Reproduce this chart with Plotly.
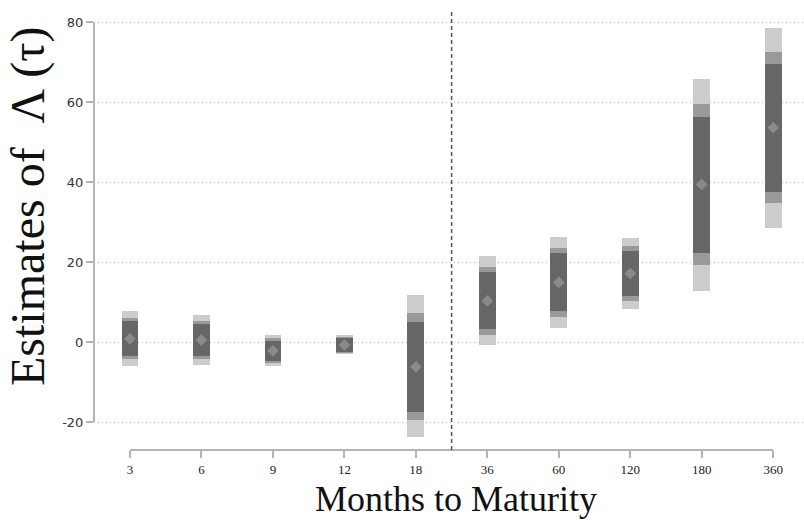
import plotly.graph_objects as go

# Categories (months to maturity)
maturities = ["3", "6", "9", "12", "18", "36", "60", "120", "180", "360"]
positions = list(range(1, len(maturities) + 1))

# Point estimates
estimate = [0.8, 0.5, -2.2, -0.75, -6.2, 10.3, 14.9, 17.1, 39.4, 53.6]
# Inner band (dark)
inner_lo = [-3.5, -3.5, -4.75, -2.4, -17.4, 3.2, 7.7, 11.4, 22.3, 37.6]
inner_hi = [5.25, 4.5, 0.3, 0.9, 5.1, 17.5, 22.2, 22.75, 56.3, 69.5]
# Middle band (medium)
mid_lo = [-4.3, -4.25, -5.2, -2.75, -19.5, 1.75, 6.2, 10.3, 19.2, 34.7]
mid_hi = [6.1, 5.25, 1.1, 1.25, 7.3, 18.8, 23.5, 23.9, 59.5, 72.6]
# Outer band (light)
outer_lo = [-6.0, -5.75, -6.0, -3.1, -23.8, -0.8, 3.5, 8.25, 12.75, 28.6]
outer_hi = [7.75, 6.75, 1.7, 1.7, 11.75, 21.5, 26.3, 25.9, 65.8, 78.4]

y_ticks = [-20, 0, 20, 40, 60, 80]

BAR_W = 0.235
fig = go.Figure()

for lo, hi, col in [(outer_lo, outer_hi, "#cccccc"),
                    (mid_lo, mid_hi, "#999999"),
                    (inner_lo, inner_hi, "#666666")]:
    fig.add_trace(go.Bar(
        x=positions,
        y=[h - l for l, h in zip(lo, hi)],
        base=lo,
        width=BAR_W,
        marker=dict(color=col, line=dict(width=0)),
        showlegend=False,
        hoverinfo="skip",
    ))

fig.add_trace(go.Scatter(
    x=positions, y=estimate, mode="markers",
    marker=dict(symbol="diamond", size=9, color="#8a8a8a", line=dict(width=0)),
    showlegend=False,
))

axis_col = "#b4b4b4"
# y axis line spanning tick range
fig.add_shape(type="line", xref="paper", yref="y", x0=0, x1=0,
              y0=min(y_ticks), y1=max(y_ticks),
              line=dict(color=axis_col, width=2))
# x axis line spanning category range
fig.add_shape(type="line", xref="x", yref="paper", x0=positions[0], x1=positions[-1],
              y0=0, y1=0, line=dict(color=axis_col, width=2))
# dashed separator between 18 and 36
sep = (positions[4] + positions[5]) / 2
fig.add_shape(type="line", xref="x", yref="paper", x0=sep, x1=sep, y0=0, y1=1,
              line=dict(color="#555555", width=1.5, dash="4px,3px"))

fig.update_layout(
    width=804, height=520,
    margin=dict(l=94, r=0, t=12, b=70),
    plot_bgcolor="white", paper_bgcolor="white",
    barmode="overlay", bargap=0,
    xaxis=dict(
        range=[0.497, 10.43],
        tickmode="array", tickvals=positions, ticktext=maturities,
        showgrid=False, zeroline=False, showline=False,
        ticks="outside", ticklen=7, tickwidth=1.5, tickcolor=axis_col,
        tickfont=dict(family="Liberation Serif", size=13, color="#222222"),
    ),
    yaxis=dict(
        range=[-27, 82.5],
        tickmode="array", tickvals=y_ticks, ticktext=[str(v) for v in y_ticks],
        showgrid=True, gridcolor="#c4c4c4", griddash="1px,3px", gridwidth=1,
        zeroline=False, showline=False,
        ticks="outside", ticklen=7, tickwidth=1.5, tickcolor=axis_col,
        tickfont=dict(family="DejaVu Sans", size=13, color="#333333"),
    ),
    annotations=[
        dict(text="Estimates of  \u039b (\u03c4)", xref="paper", yref="paper",
             x=(28 - 94) / 710, y=(450 - 207) / 438, textangle=-90,
             xanchor="center", yanchor="middle", showarrow=False,
             font=dict(family="Liberation Serif", size=48, color="#111111")),
        dict(text="Months to Maturity", xref="paper", yref="paper",
             x=(455.5 - 94) / 710, y=(450 - 498.5) / 438,
             xanchor="center", yanchor="middle", showarrow=False,
             font=dict(family="Liberation Serif", size=36, color="#111111")),
    ],
)

fig.write_html("out.html", post_script="document.body.style.margin='0';",
               config={"displayModeBar": False})
